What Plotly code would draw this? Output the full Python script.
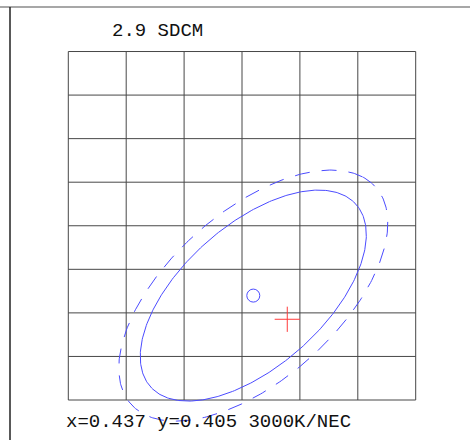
import numpy as np
import plotly.graph_objects as go

# Grid (cell units)
grid_cols = 6
grid_rows = 8

# Ellipse parameters (cell units)
ellipse_center = (3.195, 2.397)
ellipse_semi_major = 2.785
ellipse_semi_minor = 1.386
ellipse_angle_deg = 55.3
outer_scale = 1.19

# Measured point (cell units)
measured_point = (3.782, 1.853)

title_text = "2.9 SDCM"
footer_text = "x=0.437 y=0.405 3000K/NEC"

BLUE = "#4b4bff"
FONT = "Liberation Mono, Courier New, monospace"


def ellipse_xy(scale):
    t = np.linspace(0, 2 * np.pi, 400)
    th = np.deg2rad(ellipse_angle_deg)
    a = ellipse_semi_major * scale
    b = ellipse_semi_minor * scale
    x = ellipse_center[0] + a * np.cos(t) * np.cos(th) - b * np.sin(t) * np.sin(th)
    y = ellipse_center[1] + a * np.cos(t) * np.sin(th) + b * np.sin(t) * np.cos(th)
    return x, y


fig = go.Figure()

ox, oy = ellipse_xy(outer_scale)
fig.add_trace(go.Scatter(x=ox, y=oy, mode="lines",
                         line=dict(color=BLUE, width=1, dash="15px,12px"),
                         hoverinfo="skip"))
ix, iy = ellipse_xy(1.0)
fig.add_trace(go.Scatter(x=ix, y=iy, mode="lines",
                         line=dict(color=BLUE, width=1), hoverinfo="skip"))
fig.add_trace(go.Scatter(x=[ellipse_center[0]], y=[ellipse_center[1]], mode="markers",
                         marker=dict(symbol="circle-open", size=13,
                                     line=dict(color=BLUE, width=1), color=BLUE)))
fig.add_trace(go.Scatter(x=[measured_point[0]], y=[measured_point[1]], mode="markers",
                         marker=dict(symbol="cross-thin", size=18,
                                     line=dict(color="#ff3b3b", width=1))))

shapes = []
for i in range(grid_cols + 1):
    shapes.append(dict(type="line", xref="x", yref="y", x0=i, x1=i, y0=0, y1=grid_rows,
                       line=dict(color="#474747", width=1), layer="below"))
for j in range(grid_rows + 1):
    shapes.append(dict(type="line", xref="x", yref="y", x0=0, x1=grid_cols, y0=j, y1=j,
                       line=dict(color="#474747", width=1), layer="below"))
# page frame
shapes.append(dict(type="line", xref="paper", yref="paper", x0=0, x1=1,
                   y0=1 - 7 / 440, y1=1 - 7 / 440, line=dict(color="#8a8a8a", width=1.5)))
shapes.append(dict(type="line", xref="paper", yref="paper", x0=10 / 470, x1=10 / 470,
                   y0=0, y1=1 - 7 / 440, line=dict(color="#222222", width=1.5)))

W, H = 470, 440
px_x0, px_cell_x = 68.3, 57.9
px_y0, px_cell_y = 400.0, 43.56

fig.update_layout(
    width=W, height=H,
    margin=dict(l=0, r=0, t=0, b=0),
    paper_bgcolor="white", plot_bgcolor="white",
    showlegend=False,
    xaxis=dict(range=[(0 - px_x0) / px_cell_x, (W - px_x0) / px_cell_x],
               visible=False, fixedrange=True),
    yaxis=dict(range=[(px_y0 - H) / px_cell_y, (px_y0 - 0) / px_cell_y],
               visible=False, fixedrange=True),
    shapes=shapes,
    annotations=[
        dict(text=title_text, xref="paper", yref="paper", x=110 / W, y=1 - 31.5 / H,
             xanchor="left", yanchor="middle", showarrow=False,
             font=dict(family=FONT, size=19, color="#111")),
        dict(text=footer_text, xref="paper", yref="paper", x=64 / W, y=1 - 421.5 / H,
             xanchor="left", yanchor="middle", showarrow=False,
             font=dict(family=FONT, size=19, color="#111")),
    ],
)

fig.write_html("out.html", config={"displayModeBar": False},
               post_script="document.body.style.margin='0';document.body.style.overflow='hidden';")
